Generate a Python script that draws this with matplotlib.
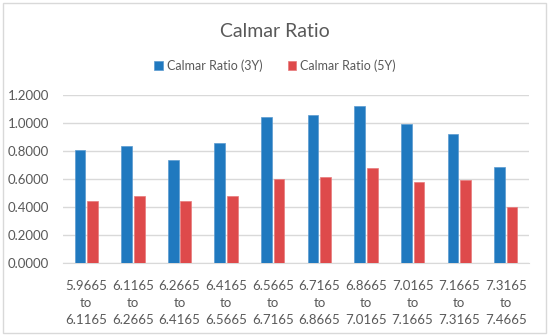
import matplotlib
matplotlib.use("Agg")
import matplotlib.pyplot as plt
import numpy as np
from matplotlib.patches import Rectangle

plt.rcParams['font.family'] = ['Lato', 'DejaVu Sans']

# data
ranges = [("5.9665", "6.1165"), ("6.1165", "6.2665"), ("6.2665", "6.4165"),
          ("6.4165", "6.5665"), ("6.5665", "6.7165"), ("6.7165", "6.8665"),
          ("6.8665", "7.0165"), ("7.0165", "7.1665"), ("7.1665", "7.3165"),
          ("7.3165", "7.4665")]
calmar_3y = [0.805, 0.833, 0.733, 0.860, 1.046, 1.057, 1.124, 0.991, 0.921, 0.689]
calmar_5y = [0.440, 0.479, 0.440, 0.479, 0.598, 0.614, 0.681, 0.576, 0.596, 0.400]
yticks = [0.0, 0.2, 0.4, 0.6, 0.8, 1.0, 1.2]

labels = [a + "\nto\n" + b for a, b in ranges]
x = np.arange(len(labels))

fig = plt.figure(figsize=(5.5, 3.36), dpi=100)
ax = fig.add_axes([0.1145, 0.217, 0.8475, 0.5])

w = 0.23
ax.bar(x - 0.135, calmar_3y, w, color='#2079BF', edgecolor='#5A9BD0', linewidth=0.5,
       label='Calmar Ratio (3Y)', zorder=3)
ax.bar(x + 0.135, calmar_5y, w, color='#DE4A4B', edgecolor='#E87A7B', linewidth=0.5,
       label='Calmar Ratio (5Y)', zorder=3)

ax.set_xlim(-0.5, len(labels) - 0.5)
ax.set_ylim(0, 1.2)
ax.set_yticks(yticks)
ax.set_yticklabels([f"{v:.4f}" for v in yticks])
ax.set_xticks(x)
ax.set_xticklabels(labels, linespacing=1.5)
ax.tick_params(axis='both', length=0, labelsize=9.5, colors='#595959')
ax.tick_params(axis='x', pad=12)
ax.tick_params(axis='y', pad=10)
ax.yaxis.grid(True, color='#D9D9D9', linewidth=1, zorder=0)
for s in ['top', 'right', 'left']:
    ax.spines[s].set_visible(False)
ax.spines['bottom'].set_color('#D9D9D9')

fig.text(0.5, 0.905, "Calmar Ratio", ha='center', va='center', fontsize=14, color='#595959')
ax.legend(loc='center', bbox_to_anchor=(0.5, 0.805), bbox_transform=fig.transFigure,
          ncol=2, frameon=False, fontsize=9, handlelength=0.7, handleheight=0.7,
          handletextpad=0.3, columnspacing=2.0, labelcolor='#595959')

fig.patches.append(Rectangle((0.006, 0.008), 0.986, 0.984, transform=fig.transFigure,
                             fill=False, edgecolor='#D9D9D9', linewidth=1))

fig.savefig("out.png", dpi=100)
